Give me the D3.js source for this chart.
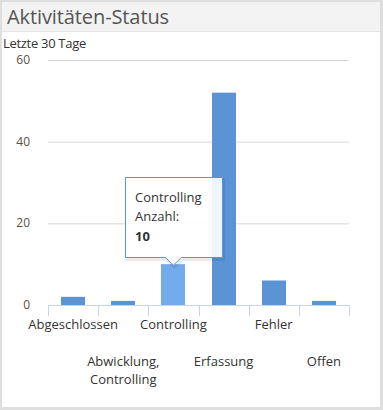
<!DOCTYPE html>
<meta charset="utf-8">
<style>
  html, body { margin: 0; padding: 0; background: #dedede; }
  body { width: 383px; height: 410px; overflow: hidden; position: relative; }
  #card { position: absolute; left: 2px; top: 2px; width: 378px; height: 405px; background: #fff; }
  #head { height: 29px; background: #f3f3f3; border-bottom: 1px solid #e4e4e4; }
  #head span { display: block; padding: 1px 0 0 5px; font: 20px "Open Sans", sans-serif; color: #555; letter-spacing: -0.1px; }
  #sub { position: absolute; left: 1px; top: 32px; font: 13px "Open Sans", sans-serif; color: #333; letter-spacing: -0.3px; }
  svg { position: absolute; left: 0; top: 0; }
</style>
<body>
<div id="card">
  <div id="head"><span>Aktivitäten-Status</span></div>
  <div id="sub">Letzte 30 Tage</div>
</div>
<script src="https://cdnjs.cloudflare.com/ajax/libs/d3/7.8.5/d3.min.js"></script>
<script>

// data
var categories = ["Abgeschlossen", "Abwicklung, Controlling", "Controlling", "Erfassung", "Fehler", "Offen"];
var values = [2, 1, 10, 52, 6, 1];
var yTicks = [0, 20, 40, 60];
var hovered = 2;

var width = 383, height = 410;
var plotLeft = 48, plotRight = 349, plotTop = 60, plotBottom = 305;

var svg = d3.select("body").append("svg")
    .attr("width", width).attr("height", height);

var x = d3.scaleBand().domain(categories).range([plotLeft, plotRight]);
var y = d3.scaleLinear().domain([0, 60]).range([plotBottom, plotTop]);

// grid
svg.append("g").selectAll("line")
   .data(yTicks.filter(function(d) { return d > 0; }))
   .enter().append("line")
   .attr("x1", plotLeft).attr("x2", plotRight)
   .attr("y1", function(d) { return y(d) + 0.5; })
   .attr("y2", function(d) { return y(d) + 0.5; })
   .attr("stroke", "#d8d8d8").attr("stroke-width", 1);

// y labels
svg.append("g").selectAll("text")
   .data(yTicks).enter().append("text")
   .attr("x", 30).attr("y", function(d) { return y(d) + 4; })
   .attr("text-anchor", "end")
   .attr("font-family", "Open Sans, sans-serif").attr("font-size", 12)
   .attr("fill", "#5a5045")
   .text(function(d) { return d; });

// bars
var bw = 24;
svg.append("g").selectAll("rect")
   .data(values).enter().append("rect")
   .attr("x", function(d, i) { return Math.round(x(categories[i]) + x.bandwidth() / 2 - bw / 2); })
   .attr("y", function(d) { return y(d); })
   .attr("width", bw)
   .attr("height", function(d) { return y(0) - y(d); })
   .attr("fill", function(d, i) { return i == hovered ? "#72acea" : "#5b94d4"; });

// x axis
var axisG = svg.append("g");
axisG.append("line")
     .attr("x1", plotLeft).attr("x2", plotRight + 1)
     .attr("y1", plotBottom + 0.5).attr("y2", plotBottom + 0.5)
     .attr("stroke", "#c6d6ea");
var tickPos = categories.map(function(c) { return x(c); }).concat([plotRight]);
axisG.selectAll("line.tick")
     .data(tickPos).enter().append("line")
     .attr("class", "tick")
     .attr("x1", function(d) { return Math.round(d) + 0.5; })
     .attr("x2", function(d) { return Math.round(d) + 0.5; })
     .attr("y1", plotBottom).attr("y2", plotBottom + 11)
     .attr("stroke", "#c6d6ea");

// staggered x labels
var labelG = svg.append("g")
    .attr("font-family", "Open Sans, sans-serif").attr("font-size", 13)
    .attr("fill", "#333").attr("text-anchor", "middle");
categories.forEach(function(c, i) {
  var cx = x(c) + x.bandwidth() / 2;
  var lines = c.indexOf(", ") > 0 ? [c.split(", ")[0] + ",", c.split(", ")[1]] : [c];
  var y0 = i % 2 == 0 ? 329 : 366;
  lines.forEach(function(t, j) {
    labelG.append("text").attr("x", cx).attr("y", y0 + j * 18).text(t);
  });
});

// tooltip
var tx = x(categories[hovered]) + x.bandwidth() / 2;
var ty = y(values[hovered]);
var tip = svg.append("g");
var bx = 125.5, by = 177.5, bW = 97, bH = 80;
var path = "M" + bx + "," + by + " h" + bW + " v" + bH +
           " H" + (tx + 8) + " L" + tx + "," + (ty + 1) + " L" + (tx - 8) + "," + (by + bH) +
           " H" + bx + " Z";
tip.append("path").attr("d", path)
   .attr("transform", "translate(1,2)")
   .attr("fill", "none").attr("stroke", "rgba(0,0,0,0.08)").attr("stroke-width", 3);
tip.append("path").attr("d", path)
   .attr("fill", "rgba(255,255,255,0.9)")
   .attr("stroke", "#5b94d4").attr("stroke-width", 1);
var tipText = tip.append("g")
   .attr("font-family", "Open Sans, sans-serif").attr("font-size", 13).attr("fill", "#333");
tipText.append("text").attr("x", 135).attr("y", 202).text(categories[hovered]);
tipText.append("text").attr("x", 135).attr("y", 221).text("Anzahl:");
tipText.append("text").attr("x", 135).attr("y", 241).attr("font-weight", "bold").text(values[hovered]);

</script>
